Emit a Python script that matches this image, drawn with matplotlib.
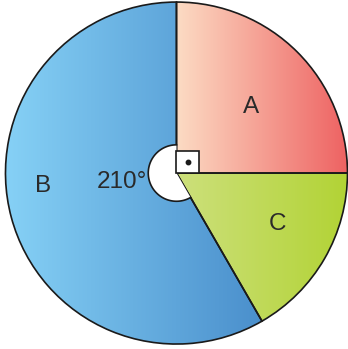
import numpy as np
import matplotlib
matplotlib.use('Agg')
import matplotlib.pyplot as plt
from matplotlib.patches import Wedge, Rectangle
from matplotlib.colors import to_rgb

labels = ['A', 'B', 'C']
angles = [90, 210, 60]
left_colors = ['#FCDCC4', '#86D1F6', '#CDE07C']
right_colors = ['#EE6262', '#4A8FCC', '#B2D335']
label_pos = [(0.436, 0.386), (-0.781, -0.076), (0.588, -0.298)]
angle_label = '210°'

plt.rcParams['font.family'] = ['Liberation Sans', 'DejaVu Sans']

fig = plt.figure(figsize=(3.48, 3.49), dpi=100)
ax = fig.add_axes([0, 0, 1, 1])
ax.set_xlim(-1.032, 1.003)
ax.set_ylim(-1.029, 1.012)
ax.set_aspect('equal')
ax.axis('off')

start = 0
for lab, a, c0, c1, pos in zip(labels, angles, left_colors, right_colors, label_pos):
    w = Wedge((0, 0), 1, start, start + a, facecolor='none', edgecolor='none')
    ax.add_patch(w)
    # horizontal extent of the wedge for the gradient
    th = np.radians(np.linspace(start, start + a, 200))
    xs = np.concatenate([[0], np.cos(th)])
    x0, x1 = xs.min(), xs.max()
    t = np.linspace(0, 1, 256)
    grad = (1 - t)[:, None] * np.array(to_rgb(c0)) + t[:, None] * np.array(to_rgb(c1))
    im = ax.imshow(grad[None, :, :], extent=[x0, x1, -1, 1], aspect='auto',
                   interpolation='bilinear', zorder=1)
    im.set_clip_path(w)
    ax.add_patch(Wedge((0, 0), 1, start, start + a, facecolor='none',
                       edgecolor='#1a1a1a', linewidth=1.2, zorder=3))
    ax.text(pos[0], pos[1], lab, fontsize=17.5, color='#2a2a2a', ha='center', va='center', zorder=5)
    start += a

# angle marker for B
b0 = angles[0]
b1 = angles[0] + angles[1]
ax.add_patch(Wedge((0, 0), 0.165, b0, b1, facecolor='white', edgecolor='none', zorder=4))
th = np.radians(np.linspace(b0, b1, 100))
ax.plot(0.165 * np.cos(th), 0.165 * np.sin(th), color='#1a1a1a', lw=1.2, zorder=5)
ax.text(-0.318, -0.05, angle_label, fontsize=17.5, color='#2a2a2a', ha='center', va='center', zorder=5)

# right angle marker for A
ax.add_patch(Rectangle((0, 0), 0.13, 0.13, facecolor='white', edgecolor='#1a1a1a', lw=1.2, zorder=4))
ax.plot([0.065], [0.065], 'o', color='#1a1a1a', markersize=3.2, zorder=5)

fig.savefig('out.png', dpi=100)
